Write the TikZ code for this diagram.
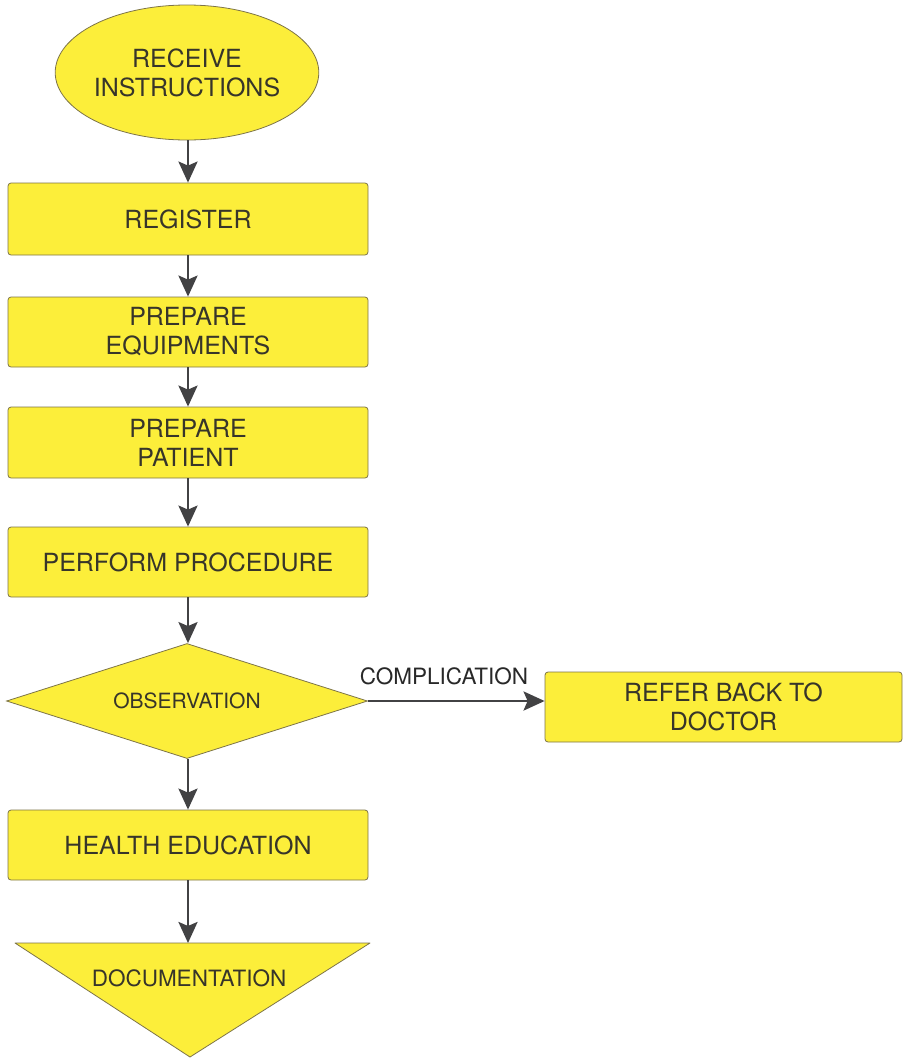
\documentclass[tikz,border=0pt]{standalone}
\usepackage{fontspec}
\setmainfont{TeX Gyre Heros}
\usetikzlibrary{shapes.geometric,arrows.meta}
\definecolor{flowfill}{RGB}{252,238,58}
\definecolor{flowedge}{RGB}{125,116,72}
\definecolor{flowtext}{RGB}{55,53,42}
\definecolor{labeltext}{RGB}{40,40,40}
\definecolor{arrowgray}{RGB}{66,66,68}
\begin{document}
\begin{tikzpicture}[x=1pt,y=-1pt,
  every node/.style={text=flowtext, font=\fontsize{25}{29}\selectfont, align=center, inner sep=0pt},
  shapeline/.style={draw=flowedge, fill=flowfill, line width=0.8pt},
  stepbox/.style={shapeline, rounded corners=3pt, minimum width=360pt},
  flow/.style={draw=arrowgray, line width=2.8pt, -{Stealth[length=21pt,width=19pt,inset=4pt]}},
]
\useasboundingbox (0,0) rectangle (903,1058);

% main column
\node[ellipse, shapeline, minimum width=250pt, minimum height=135pt] (recv) at (187,72.5) {RECEIVE\\INSTRUCTIONS};
\node[stepbox, minimum height=72pt] (reg) at (188,219) {REGISTER};
\node[stepbox, minimum height=70pt] (equip) at (188,332) {PREPARE\\EQUIPMENTS};
\node[stepbox, minimum height=71pt] (pat) at (188,442.5) {PREPARE\\PATIENT};
\node[stepbox, minimum height=70pt] (perf) at (188,562) {PERFORM PROCEDURE};
\node[diamond, aspect=3.14, shapeline, minimum width=361pt, minimum height=115pt,
      font=\fontsize{21}{25}\selectfont] (obs) at (187,701) {OBSERVATION};
\node[stepbox, minimum height=70pt] (health) at (188,845) {HEALTH EDUCATION};

% end symbol: downward triangle
\coordinate (docL) at (15,943);
\coordinate (docR) at (370,943);
\coordinate (docA) at (190,1057);
\coordinate (doctop) at (188,943);
\filldraw[shapeline, line join=round] (docL) -- (docR) -- (docA) -- cycle;
\node[font=\fontsize{22.5}{26}\selectfont] (doc) at (189,978) {DOCUMENTATION};

% side branch
\node[stepbox, minimum width=357pt, minimum height=70pt] (refer) at (723.5,707) {REFER BACK TO\\DOCTOR};
\node[text=labeltext, font=\fontsize{22.5}{26}\selectfont] (comp) at (444,676) {COMPLICATION};

% connectors
\draw[flow] (reg.north |- recv.south) -- (reg.north);
\draw[flow] (reg.south) -- (equip.north);
\draw[flow] (equip.south) -- (pat.north);
\draw[flow] (pat.south) -- (perf.north);
\draw[flow] (perf.south) -- (perf.south |- obs.north);
\draw[flow] (health.north |- obs.south) -- (health.north);
\draw[flow] (health.south) -- (doctop);
\draw[flow] (obs.east) -- (obs.east -| refer.west);
\end{tikzpicture}
\end{document}
